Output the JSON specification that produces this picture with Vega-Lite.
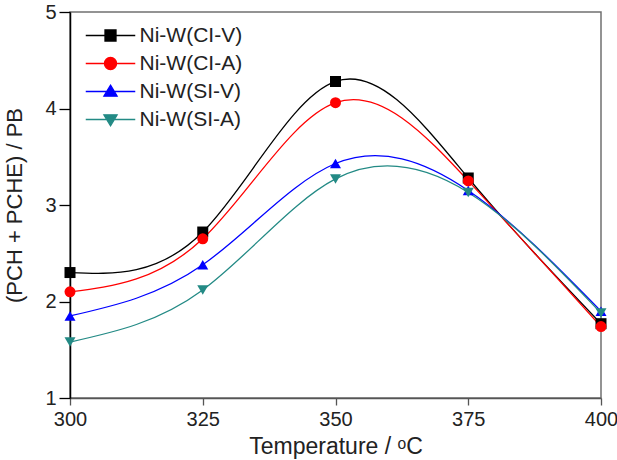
{
  "$schema": "https://vega.github.io/schema/vega-lite/v6.json",
  "width": 531,
  "height": 386,
  "autosize": "none",
  "padding": {"left": 70, "top": 12, "right": 16, "bottom": 62},
  "background": "white",
  "config": {
    "font": "Liberation Sans",
    "view": {"stroke": "#707070", "strokeWidth": 1.5},
    "axis": {"grid": false, "labelFont": "Liberation Sans", "titleFont": "Liberation Sans", "labelColor": "#222", "titleColor": "#222", "titleFontWeight": "normal", "labelFontSize": 20, "titleFontSize": 22, "tickWidth": 1.3, "domainWidth": 1.5, "labelFlush": false, "labelOverlap": false}
  },
  "data": {"values": [
    {"series": "Ni-W(CI-V)", "t": 300, "v": 2.30},
    {"series": "Ni-W(CI-V)", "t": 325, "v": 2.72},
    {"series": "Ni-W(CI-V)", "t": 350, "v": 4.28},
    {"series": "Ni-W(CI-V)", "t": 375, "v": 3.28},
    {"series": "Ni-W(CI-V)", "t": 400, "v": 1.77},
    {"series": "Ni-W(CI-A)", "t": 300, "v": 2.10},
    {"series": "Ni-W(CI-A)", "t": 325, "v": 2.65},
    {"series": "Ni-W(CI-A)", "t": 350, "v": 4.06},
    {"series": "Ni-W(CI-A)", "t": 375, "v": 3.25},
    {"series": "Ni-W(CI-A)", "t": 400, "v": 1.74},
    {"series": "Ni-W(SI-V)", "t": 300, "v": 1.85},
    {"series": "Ni-W(SI-V)", "t": 325, "v": 2.38},
    {"series": "Ni-W(SI-V)", "t": 350, "v": 3.43},
    {"series": "Ni-W(SI-V)", "t": 375, "v": 3.15},
    {"series": "Ni-W(SI-V)", "t": 400, "v": 1.90},
    {"series": "Ni-W(SI-A)", "t": 300, "v": 1.58},
    {"series": "Ni-W(SI-A)", "t": 325, "v": 2.12},
    {"series": "Ni-W(SI-A)", "t": 350, "v": 3.27},
    {"series": "Ni-W(SI-A)", "t": 375, "v": 3.13},
    {"series": "Ni-W(SI-A)", "t": 400, "v": 1.88}
  ]},
  "encoding": {
    "x": {"field": "t", "type": "quantitative", "scale": {"domain": [300, 400], "nice": false, "zero": false},
      "axis": {"values": [300, 325, 350, 375, 400], "title": "Temperature  / ᵒC", "titleFontSize": 23, "tickSize": 7, "labelPadding": 4, "titlePadding": 6, "domainColor": "#555", "tickColor": "#555"}},
    "y": {"field": "v", "type": "quantitative", "scale": {"domain": [1, 5], "nice": false, "zero": false},
      "axis": {"values": [1, 2, 3, 4, 5], "title": "(PCH + PCHE) / PB", "tickSize": 11, "labelPadding": 3, "titlePadding": 18, "domainColor": "#000", "tickColor": "#000"}}
  },
  "layer": [
    {
      "mark": {"type": "line", "interpolate": "natural", "strokeWidth": 1.3},
      "encoding": {
        "color": {"field": "series", "type": "nominal", "legend": null,
          "scale": {"domain": ["Ni-W(CI-V)", "Ni-W(CI-A)", "Ni-W(SI-V)", "Ni-W(SI-A)"], "range": ["#000000", "#ff0000", "#0000ff", "#238a85"]}}
      }
    },
    {
      "mark": {"type": "point", "filled": true, "opacity": 1, "size": 121},
      "encoding": {
        "color": {"field": "series", "type": "nominal", "legend": null,
          "scale": {"domain": ["Ni-W(CI-V)", "Ni-W(CI-A)", "Ni-W(SI-V)", "Ni-W(SI-A)"], "range": ["#000000", "#ff0000", "#0000ff", "#238a85"]}},
        "shape": {"field": "series", "type": "nominal", "legend": null,
          "scale": {"domain": ["Ni-W(CI-V)", "Ni-W(CI-A)", "Ni-W(SI-V)", "Ni-W(SI-A)"], "range": ["square", "circle", "triangle-up", "triangle-down"]}}
      }
    },
    {
      "mark": {"type": "point", "filled": true, "opacity": 0, "size": 121},
      "encoding": {
        "fill": {"field": "series", "type": "nominal",
          "scale": {"domain": ["Ni-W(CI-V)", "Ni-W(CI-A)", "Ni-W(SI-V)", "Ni-W(SI-A)"], "range": ["#000000", "#ff0000", "#0000ff", "#238a85"]},
          "legend": {"title": null, "orient": "none", "legendX": 30, "legendY": 13, "padding": 0, "symbolSize": 121, "symbolStrokeWidth": 1.3, "symbolOpacity": 1, "labelOffset": 18.5, "labelFontSize": 21, "labelColor": "#222", "rowPadding": 6}},
        "stroke": {"field": "series", "type": "nominal",
          "scale": {"domain": ["Ni-W(CI-V)", "Ni-W(CI-A)", "Ni-W(SI-V)", "Ni-W(SI-A)"], "range": ["#000000", "#ff0000", "#0000ff", "#238a85"]},
          "legend": {"title": null, "orient": "none", "legendX": 30, "legendY": 13, "padding": 0, "symbolSize": 121, "symbolStrokeWidth": 1.3, "symbolOpacity": 1, "labelOffset": 18.5, "labelFontSize": 21, "labelColor": "#222", "rowPadding": 6}},
        "shape": {"field": "series", "type": "nominal",
          "scale": {"domain": ["Ni-W(CI-V)", "Ni-W(CI-A)", "Ni-W(SI-V)", "Ni-W(SI-A)"], "range": ["M-4.5,0L4.5,0M-1,-1L1,-1L1,1L-1,1Z", "M-4.5,0L4.5,0M1.1,0A1.1,1.1,0,1,1,-1.1,0A1.1,1.1,0,1,1,1.1,0Z", "M-4.5,0L4.5,0M0,-1.15L1.2,0.85L-1.2,0.85Z", "M-4.5,0L4.5,0M0,1.15L1.2,-0.85L-1.2,-0.85Z"]},
          "legend": {"title": null, "orient": "none", "legendX": 30, "legendY": 13, "padding": 0, "symbolSize": 121, "symbolStrokeWidth": 1.3, "symbolOpacity": 1, "labelOffset": 18.5, "labelFontSize": 21, "labelColor": "#222", "rowPadding": 6}}
      }
    }
  ],
  "resolve": {"scale": {"shape": "independent", "fill": "independent", "stroke": "independent"}}
}
